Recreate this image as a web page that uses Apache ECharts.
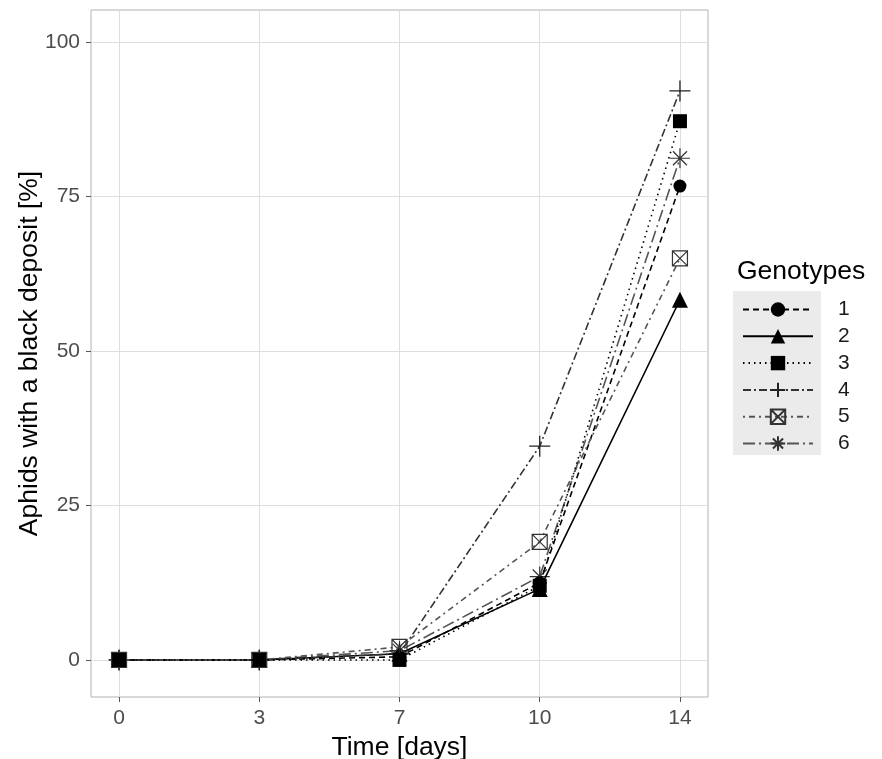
<!DOCTYPE html>
<html><head><meta charset="utf-8">
<script src="https://cdn.jsdelivr.net/npm/echarts@6/dist/echarts.min.js"></script>
<style>html,body{margin:0;padding:0;background:#fff}#c{width:882px;height:759px}</style>
</head><body><div id="c"></div>
<script>
// ---- data ----
const timeLabels = ['0', '3', '7', '10', '14'];
const timeIndex = [0, 1, 2, 3, 4];
const genotypes = ['1', '2', '3', '4', '5', '6'];
const g1 = [0, 0, 0.5, 12.5, 76.7];
const g2 = [0, 0, 1.0, 11.5, 58.3];
const g3 = [0, 0, 0.0, 12.0, 87.2];
const g4 = [0, 0, 1.0, 34.6, 92.1];
const g5 = [0, 0, 2.1, 19.1, 65.0];
const g6 = [0, 0, 1.5, 13.5, 81.2];
const yTicks = [0, 25, 50, 75, 100];

const FONT = '"Liberation Sans", Arial, sans-serif';
const seriesValues = [g1, g2, g3, g4, g5, g6];

const styles = [
  { symbol: 'circle', size: 13, fill: '#000', border: '#000', bw: 0, line: '#000', dash: [6, 4], z: 5 },
  { symbol: 'triangle', size: 16, fill: '#000', border: '#000', bw: 0, line: '#000', dash: 'solid', z: 4 },
  { symbol: 'rect', size: 14, fill: '#000', border: '#000', bw: 0, line: '#000', dash: [1.5, 4], z: 10 },
  { symbol: 'path://M5,0 L5,10 M0,5 L10,5', size: 21, fill: 'none', border: '#222', bw: 1.3, line: '#333', dash: [8, 3, 2, 3], z: 6 },
  { symbol: 'path://M0,0 L10,0 L10,10 L0,10 Z M0,0 L10,10 M10,0 L0,10', size: 15, fill: 'none', border: '#333', bw: 1.2, line: '#555', dash: [2, 4, 6, 4], z: 7 },
  { symbol: 'path://M5,0 L5,10 M0,5 L10,5 M1.5,1.5 L8.5,8.5 M8.5,1.5 L1.5,8.5', size: 20, fill: 'none', border: '#333', bw: 1.2, line: '#555', dash: [12, 4, 2, 4], z: 3 }
];

const series = genotypes.map((name, k) => {
  const s = styles[k];
  return {
    name: name,
    type: 'line',
    data: seriesValues[k].map((v, i) => [timeIndex[i], v]),
    symbol: s.symbol,
    symbolSize: s.size,
    showAllSymbol: true,
    itemStyle: { color: s.fill, borderColor: s.border, borderWidth: s.bw },
    lineStyle: { color: s.line, width: 1.6, type: s.dash },
    emphasis: { disabled: true },
    animation: false,
    z: s.z
  };
});

const chart = echarts.init(document.getElementById('c'), null, { renderer: 'canvas' });
chart.setOption({
  backgroundColor: '#fff',
  animation: false,
  textStyle: { fontFamily: FONT },
  title: {
    text: 'Genotypes', left: 732, top: 253,
    textStyle: { fontFamily: FONT, fontSize: 26.5, fontWeight: 'normal', color: '#000' }
  },
  graphic: [
    { type: 'rect', left: 733, top: 291, shape: { width: 88, height: 164 }, style: { fill: '#ebebeb' }, z: 0, silent: true }
  ],
  legend: {
    data: genotypes,
    orient: 'vertical',
    left: 737, top: 294,
    itemWidth: 70, itemHeight: 18, itemGap: 5.8,
    textStyle: { fontFamily: FONT, fontSize: 21, lineHeight: 18, color: '#1a1a1a', padding: [0, 0, 0, 20] },
    selectedMode: false
  },
  grid: {
    left: 91, right: 174, top: 10, bottom: 62,
    outerBoundsMode: 'none', containLabel: false,
    show: true, borderColor: '#b3b3b3', borderWidth: 1, backgroundColor: 'transparent'
  },
  xAxis: {
    type: 'value', min: -0.2, max: 4.2,
    name: 'Time [days]', nameLocation: 'middle', nameGap: 34,
    nameTextStyle: { fontFamily: FONT, fontSize: 26.5, color: '#000' },
    axisLine: { show: false, onZero: false },
    axisTick: { show: true, length: 5, lineStyle: { color: '#555' }, customValues: timeIndex },
    axisLabel: { customValues: timeIndex, formatter: v => timeLabels[Math.round(v)], fontSize: 21, color: '#4d4d4d', margin: 11, fontFamily: FONT },
    splitLine: { show: true, lineStyle: { color: '#dedede', width: 1 } }
  },
  yAxis: {
    type: 'value', min: -6, max: 105.2,
    name: 'Aphids with a black deposit [%]', nameLocation: 'middle', nameGap: 48, nameRotate: 90,
    nameMoveOverlap: false,
    nameTextStyle: { fontFamily: FONT, fontSize: 26.5, color: '#000' },
    axisLine: { show: false, onZero: false },
    axisTick: { show: true, length: 5, lineStyle: { color: '#555' }, customValues: yTicks },
    axisLabel: { customValues: yTicks, fontSize: 21, color: '#4d4d4d', margin: 11, fontFamily: FONT },
    splitLine: { show: true, lineStyle: { color: '#dedede', width: 1 } }
  },
  series: series
});
</script>
</body></html>
